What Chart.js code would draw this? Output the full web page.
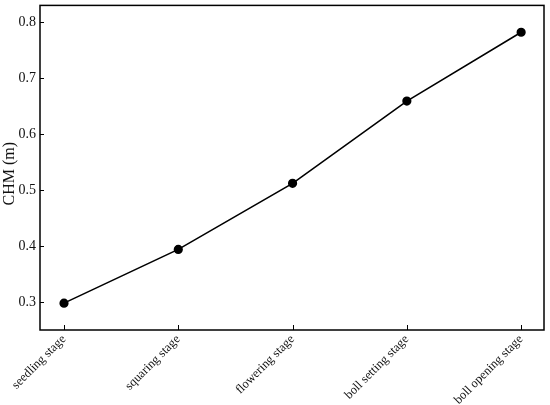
<!DOCTYPE html>
<html>
<head>
<meta charset="utf-8">
<script src="https://cdn.jsdelivr.net/npm/chart.js@4/dist/chart.umd.min.js"></script>
<style>
  html, body { margin: 0; padding: 0; background: #fff; }
  #wrap { width: 550px; height: 405px; }
</style>
</head>
<body>
<div id="wrap"><canvas id="chartCanvas" width="550" height="405"></canvas></div>
<script>
// Growth stages and canopy height values
var stages = ["seedling stage", "squaring stage", "flowering stage", "boll setting stage", "boll opening stage"];
var chmValues = [0.298, 0.394, 0.512, 0.659, 0.782];
var yTicks = [0.3, 0.4, 0.5, 0.6, 0.7, 0.8];

var serif = "'Liberation Serif', 'Times New Roman', serif";

// Build points from the arrays
var points = [];
for (var i = 0; i < stages.length; i++) {
  points.push({ x: i, y: chmValues[i] });
}

// Plugin: box border and inward tick marks
var frame = {
  id: 'frame',
  afterDraw: function(c) {
    var ctx = c.ctx;
    var a = c.chartArea;
    var xs = c.scales.x, ys = c.scales.y;
    ctx.save();
    ctx.strokeStyle = '#000';
    ctx.lineWidth = 1.5;
    ctx.strokeRect(a.left, a.top, a.right - a.left, a.bottom - a.top);
    ctx.lineWidth = 1;
    ctx.beginPath();
    yTicks.forEach(function(v) {
      var py = Math.round(ys.getPixelForValue(v)) + 0.5;
      ctx.moveTo(a.left, py);
      ctx.lineTo(a.left + 4, py);
    });
    stages.forEach(function(s, k) {
      var px = Math.round(xs.getPixelForValue(k)) + 0.5;
      ctx.moveTo(px, a.bottom);
      ctx.lineTo(px, a.bottom - 5);
    });
    ctx.stroke();
    ctx.restore();
  }
};

var chart = new Chart(document.getElementById('chartCanvas'), {
  type: 'scatter',
  data: {
    datasets: [{
      data: points,
      showLine: true,
      borderColor: '#000',
      backgroundColor: '#000',
      borderWidth: 1.6,
      pointRadius: 3.8,
      pointHoverRadius: 3.8,
      tension: 0
    }]
  },
  options: {
    responsive: false,
    animation: false,
    layout: { padding: { top: 5, right: 6, left: 0, bottom: 0 } },
    plugins: { legend: { display: false }, tooltip: { enabled: false } },
    scales: {
      x: {
        type: 'linear',
        min: -0.21,
        max: 4.2,
        grid: { display: false, drawTicks: false },
        border: { display: false },
        afterBuildTicks: function(s) {
          s.ticks = stages.map(function(n, k) { return { value: k }; });
        },
        afterFit: function(s) { s.height = 75; s.paddingRight = 0; s.paddingLeft = 0; },
        ticks: {
          color: '#111',
          font: { family: serif, size: 12.5 },
          minRotation: 45,
          maxRotation: 45,
          padding: 2,
          autoSkip: false,
          callback: function(v) { return stages[v]; }
        }
      },
      y: {
        min: 0.25,
        max: 0.83,
        grid: { display: false, drawTicks: false },
        border: { display: false },
        afterBuildTicks: function(s) {
          s.ticks = yTicks.map(function(v) { return { value: v }; });
        },
        afterFit: function(s) { s.width = 40; s.paddingTop = 0; s.paddingBottom = 0; },
        title: {
          display: true,
          text: 'CHM (m)   ',
          color: '#111',
          font: { family: serif, size: 16 },
          padding: { top: 0, bottom: 1 }
        },
        ticks: {
          color: '#111',
          font: { family: serif, size: 14 },
          padding: 4,
          callback: function(v) { return v.toFixed(1); }
        }
      }
    }
  },
  plugins: [frame]
});
</script>
</body>
</html>
